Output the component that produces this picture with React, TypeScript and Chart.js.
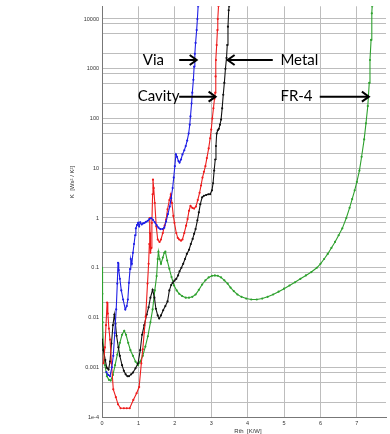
import React, { useEffect, useRef } from "react";
import { Chart, registerables } from "chart.js";

Chart.register(...registerables);

// ---------- Data ----------
const viaX = [0.12, 0.17, 0.22, 0.27, 0.31, 0.35, 0.39, 0.42, 0.44, 0.46, 0.49, 0.53, 0.58, 0.64, 0.68, 0.71, 0.74, 0.77, 0.79, 0.82, 0.85, 0.88, 0.91, 0.93, 0.96, 0.99, 1.02, 1.05, 1.09, 1.13, 1.17, 1.21, 1.26, 1.3, 1.35, 1.4, 1.45, 1.5, 1.55, 1.6, 1.66, 1.71, 1.76, 1.81, 1.86, 1.9, 1.94, 1.97, 2.0, 2.03, 2.06, 2.1, 2.13, 2.17, 2.21, 2.26, 2.3, 2.34, 2.38, 2.41, 2.43, 2.46, 2.48, 2.51, 2.53, 2.55, 2.57, 2.6, 2.62, 2.64];
const viaY = [8e-4, 7e-4, 6.6e-4, 1e-3, 1.7e-3, 4.9e-3, 0.0145, 0.048, 0.126, 0.09, 0.06, 0.035, 0.023, 0.0145, 0.017, 0.023, 0.05, 0.094, 0.15, 0.12, 0.2, 0.3, 0.45, 0.62, 0.72, 0.8, 0.68, 0.82, 0.74, 0.78, 0.8, 0.84, 0.88, 0.95, 1.0, 0.92, 0.82, 0.72, 0.64, 0.6, 0.6, 0.64, 0.85, 1.2, 1.7, 2.5, 4, 6.5, 11, 19, 17, 14, 13, 15, 19, 23, 28, 36, 50, 75, 110, 200, 330, 600, 1100, 2000, 3300, 6000, 10000, 18000];

const cavityX = [0.04, 0.08, 0.11, 0.14, 0.16, 0.19, 0.22, 0.26, 0.31, 0.38, 0.44, 0.51, 0.6, 0.68, 0.76, 0.86, 0.95, 1.02, 1.08, 1.12, 1.16, 1.2, 1.25, 1.28, 1.3, 1.31, 1.32, 1.33, 1.35, 1.37, 1.39, 1.4, 1.42, 1.45, 1.49, 1.53, 1.58, 1.62, 1.67, 1.72, 1.76, 1.8, 1.85, 1.89, 1.92, 1.96, 1.99, 2.04, 2.08, 2.12, 2.17, 2.21, 2.26, 2.31, 2.35, 2.39, 2.43, 2.48, 2.53, 2.58, 2.63, 2.68, 2.72, 2.76, 2.8, 2.84, 2.88, 2.93, 2.97, 3.0, 3.03, 3.06, 3.09, 3.11, 3.12, 3.13, 3.15, 3.17, 3.18, 3.2];
const cavityY = [0.0012, 0.0025, 0.007, 0.02, 0.012, 0.006, 0.0036, 0.0012, 3.6e-4, 2.5e-4, 1.8e-4, 1.5e-4, 1.5e-4, 1.5e-4, 1.5e-4, 2.2e-4, 3e-4, 4e-4, 0.0012, 0.0023, 0.005, 0.0105, 0.048, 0.12, 0.3, 1.0, 0.5, 0.2, 0.25, 0.8, 3, 5.9, 4, 2, 0.68, 0.37, 0.33, 0.37, 0.5, 0.7, 0.93, 1.5, 2.3, 3.0, 2, 1.1, 0.8, 0.5, 0.4, 0.37, 0.35, 0.37, 0.5, 0.7, 0.95, 1.4, 1.75, 1.6, 1.55, 1.7, 2.3, 3.2, 4.5, 6.5, 8.5, 11, 16, 25, 40, 60, 100, 160, 250, 330, 700, 1500, 3000, 6000, 10000, 18000];

const metalX = [0.0, 0.04, 0.09, 0.13, 0.18, 0.22, 0.26, 0.3, 0.34, 0.37, 0.4, 0.45, 0.49, 0.55, 0.6, 0.65, 0.7, 0.74, 0.8, 0.85, 0.92, 0.99, 1.05, 1.1, 1.16, 1.23, 1.28, 1.33, 1.39, 1.44, 1.48, 1.53, 1.57, 1.62, 1.68, 1.74, 1.8, 1.85, 1.9, 1.94, 1.99, 2.04, 2.09, 2.13, 2.18, 2.23, 2.28, 2.33, 2.39, 2.44, 2.49, 2.53, 2.57, 2.62, 2.66, 2.7, 2.75, 2.8, 2.86, 2.92, 2.97, 3.02, 3.05, 3.08, 3.11, 3.13, 3.15, 3.18, 3.21, 3.24, 3.27, 3.3, 3.33, 3.36, 3.39, 3.42, 3.44, 3.46, 3.48, 3.49];
const metalY = [0.0036, 0.0022, 0.0014, 9.8e-4, 9e-4, 0.0013, 0.003, 0.007, 0.0115, 0.0075, 0.0043, 0.0025, 0.0017, 0.0011, 8.5e-4, 7.2e-4, 6.6e-4, 6.6e-4, 7.2e-4, 7.8e-4, 9.5e-4, 0.0012, 0.0022, 0.0045, 0.007, 0.0115, 0.016, 0.025, 0.036, 0.025, 0.015, 0.011, 0.0096, 0.011, 0.014, 0.017, 0.021, 0.035, 0.045, 0.05, 0.055, 0.06, 0.07, 0.085, 0.1, 0.12, 0.15, 0.19, 0.23, 0.3, 0.38, 0.48, 0.6, 0.9, 1.3, 1.9, 2.6, 2.8, 2.9, 3.0, 3.0, 3.6, 5, 9, 15, 28, 50, 58, 62, 75, 95, 160, 300, 520, 1000, 1650, 3000, 7000, 15000, 18000];

const fr4X = [0.0, 0.01, 0.02, 0.04, 0.08, 0.135, 0.19, 0.24, 0.3, 0.36, 0.42, 0.49, 0.55, 0.61, 0.66, 0.72, 0.78, 0.85, 0.92, 0.99, 1.05, 1.12, 1.19, 1.26, 1.33, 1.39, 1.45, 1.5, 1.53, 1.55, 1.58, 1.62, 1.67, 1.71, 1.74, 1.79, 1.85, 1.91, 1.98, 2.05, 2.12, 2.2, 2.3, 2.39, 2.48, 2.57, 2.66, 2.75, 2.84, 2.93, 3.02, 3.1, 3.18, 3.27, 3.36, 3.45, 3.53, 3.62, 3.72, 3.83, 3.96, 4.1, 4.25, 4.4, 4.55, 4.7, 4.85, 5.0, 5.15, 5.3, 5.45, 5.6, 5.75, 5.9, 6.0, 6.1, 6.2, 6.3, 6.4, 6.5, 6.6, 6.71, 6.8, 6.87, 6.94, 7.0, 7.07, 7.13, 7.2, 7.25, 7.3, 7.34, 7.36, 7.39, 7.41, 7.42];
const fr4Y = [0.1, 0.03, 0.008, 0.0023, 0.0011, 6.6e-4, 5.6e-4, 5.4e-4, 7e-4, 0.0011, 0.0018, 0.0031, 0.0045, 0.0054, 0.0045, 0.0031, 0.0022, 0.0017, 0.0013, 0.0011, 0.0013, 0.0017, 0.0026, 0.0042, 0.008, 0.0145, 0.035, 0.068, 0.15, 0.21, 0.15, 0.12, 0.16, 0.2, 0.21, 0.14, 0.095, 0.065, 0.044, 0.035, 0.03, 0.027, 0.025, 0.025, 0.026, 0.029, 0.036, 0.046, 0.056, 0.064, 0.069, 0.07, 0.069, 0.064, 0.056, 0.048, 0.04, 0.034, 0.029, 0.026, 0.024, 0.023, 0.023, 0.024, 0.026, 0.029, 0.033, 0.038, 0.044, 0.051, 0.06, 0.07, 0.082, 0.1, 0.12, 0.15, 0.19, 0.25, 0.33, 0.45, 0.62, 1.0, 1.6, 2.4, 3.6, 5.3, 9, 17, 38, 80, 178, 520, 1500, 3800, 13000, 18000];

const seriesNames = ["Via", "Cavity", "Metal", "FR-4"];
const seriesColors = ["#1f1fe6", "#ee1c1c", "#111111", "#2ea12e"];

const yTickValues = [1e-4, 2e-4, 5e-4, 8e-4, 1e-3, 2e-3, 5e-3, 8e-3, 0.01, 0.02, 0.05, 0.08, 0.1, 0.2, 0.5, 0.8, 1, 2, 5, 8, 10, 20, 50, 80, 100, 200, 500, 800, 1000, 2000, 5000, 8000, 10000];
const yLabelValues = [1e-4, 1e-3, 0.01, 0.1, 1, 10, 100, 1000, 10000];
const yTickLabels = ["1e-4", "0.001", "0.01", "0.1", "1", "10", "100", "1000", "10000"];
const xTickValues = [0, 1, 2, 3, 4, 5, 6, 7];

const xTitle = "Rth  [K/W]";
const yTitle = "K  [Ws² / K²]";

// annotations: label, text x (data), arrow from x, arrow to x, y (data)
const annLabels = ["Via", "Metal", "Cavity", "FR-4"];
const annTextX = [1.12, 4.9, 0.98, 4.9];
const annArrowFrom = [2.12, 4.69, 2.12, 5.98];
const annArrowTo = [2.6, 3.45, 3.12, 7.33];
const annY = [1500, 1500, 275, 275];

const toPoints = (xs: number[], ys: number[]) => xs.map((x, i) => ({ x, y: ys[i] }));

const annotationPlugin = {
  id: "annotations",
  afterDatasetsDraw(chart: any) {
    const { ctx, scales } = chart;
    const xs = scales.x;
    const ys = scales.y;
    ctx.save();
    ctx.fillStyle = "#000";
    ctx.strokeStyle = "#000";
    ctx.font = "15px Lato, 'Open Sans', sans-serif";
    ctx.textBaseline = "middle";
    ctx.textAlign = "left";
    annLabels.forEach((lab, i) => {
      const py = ys.getPixelForValue(annY[i]);
      ctx.fillText(lab, xs.getPixelForValue(annTextX[i]), py);
      const x1 = xs.getPixelForValue(annArrowFrom[i]);
      const x2 = xs.getPixelForValue(annArrowTo[i]);
      const dir = x2 > x1 ? 1 : -1;
      ctx.lineWidth = 2;
      ctx.beginPath();
      ctx.moveTo(x1, py);
      ctx.lineTo(x2, py);
      ctx.stroke();
      ctx.beginPath();
      ctx.moveTo(x2 - dir * 7, py - 5);
      ctx.lineTo(x2, py);
      ctx.lineTo(x2 - dir * 7, py + 5);
      ctx.stroke();
    });
    // axis titles
    ctx.fillStyle = "#333";
    ctx.font = "6px 'Liberation Sans', Arial, sans-serif";
    ctx.textAlign = "center";
    const ca = chart.chartArea;
    ctx.fillText(xTitle, (ca.left + ca.right) / 2 + 4, ca.bottom + 14);
    ctx.translate(ca.left - 30, 182);
    ctx.rotate(-Math.PI / 2);
    ctx.fillText(yTitle, 0, 0);
    ctx.restore();
  },
};

export default function App() {
  const ref = useRef<HTMLCanvasElement | null>(null);
  useEffect(() => {
    if (!ref.current) return;
    const allX = [viaX, cavityX, metalX, fr4X];
    const allY = [viaY, cavityY, metalY, fr4Y];
    const chart = new Chart(ref.current, {
      type: "line",
      data: {
        datasets: seriesNames.map((name, i) => ({
          label: name,
          data: toPoints(allX[i], allY[i]),
          borderColor: seriesColors[i],
          backgroundColor: seriesColors[i],
          borderWidth: 1.1,
          pointRadius: 1.1,
          pointBorderWidth: 0,
          pointBackgroundColor: seriesColors[i],
          tension: 0,
          fill: false,
        })),
      },
      options: {
        animation: false,
        responsive: false,
        maintainAspectRatio: false,
        layout: { padding: { top: 6, right: 0, left: 0, bottom: 0 } },
        plugins: { legend: { display: false }, tooltip: { enabled: false } },
        scales: {
          x: {
            type: "linear",
            min: 0,
            max: 7.8,
            afterFit: (s: any) => { s.height = 17; },
            afterBuildTicks: (s: any) => { s.ticks = xTickValues.map((v) => ({ value: v })); },
            ticks: {
              autoSkip: false,
              padding: 3,
              color: "#333",
              font: { size: 5.5, family: "'Liberation Sans', Arial, sans-serif" },
              maxRotation: 0,
              callback: (v: any) => String(v),
            },
            grid: { color: "#bdbdbd", lineWidth: 1, drawTicks: false },
            border: { color: "#777", width: 1 },
          },
          y: {
            type: "logarithmic",
            min: 1e-4,
            max: 18000,
            afterFit: (s: any) => { s.width = 102; },
            afterBuildTicks: (s: any) => { s.ticks = yTickValues.map((v) => ({ value: v })); },
            ticks: {
              autoSkip: false,
              padding: 3,
              color: "#333",
              font: { size: 5.5, family: "'Liberation Sans', Arial, sans-serif" },
              callback: (v: any) => {
                const idx = yLabelValues.findIndex((t) => Math.abs(Math.log10(t) - Math.log10(Number(v))) < 1e-6);
                return idx >= 0 ? yTickLabels[idx] : "";
              },
            },
            grid: { color: "#bdbdbd", lineWidth: 1, drawTicks: false },
            border: { color: "#777", width: 1 },
          },
        },
      },
      plugins: [annotationPlugin],
    });
    return () => chart.destroy();
  }, []);
  return (
    <div style={{ position: "absolute", left: 0, top: 0, width: 390, height: 434, background: "#fff" }}>
      <canvas ref={ref} width={390} height={434} style={{ display: "block" }} />
    </div>
  );
}
